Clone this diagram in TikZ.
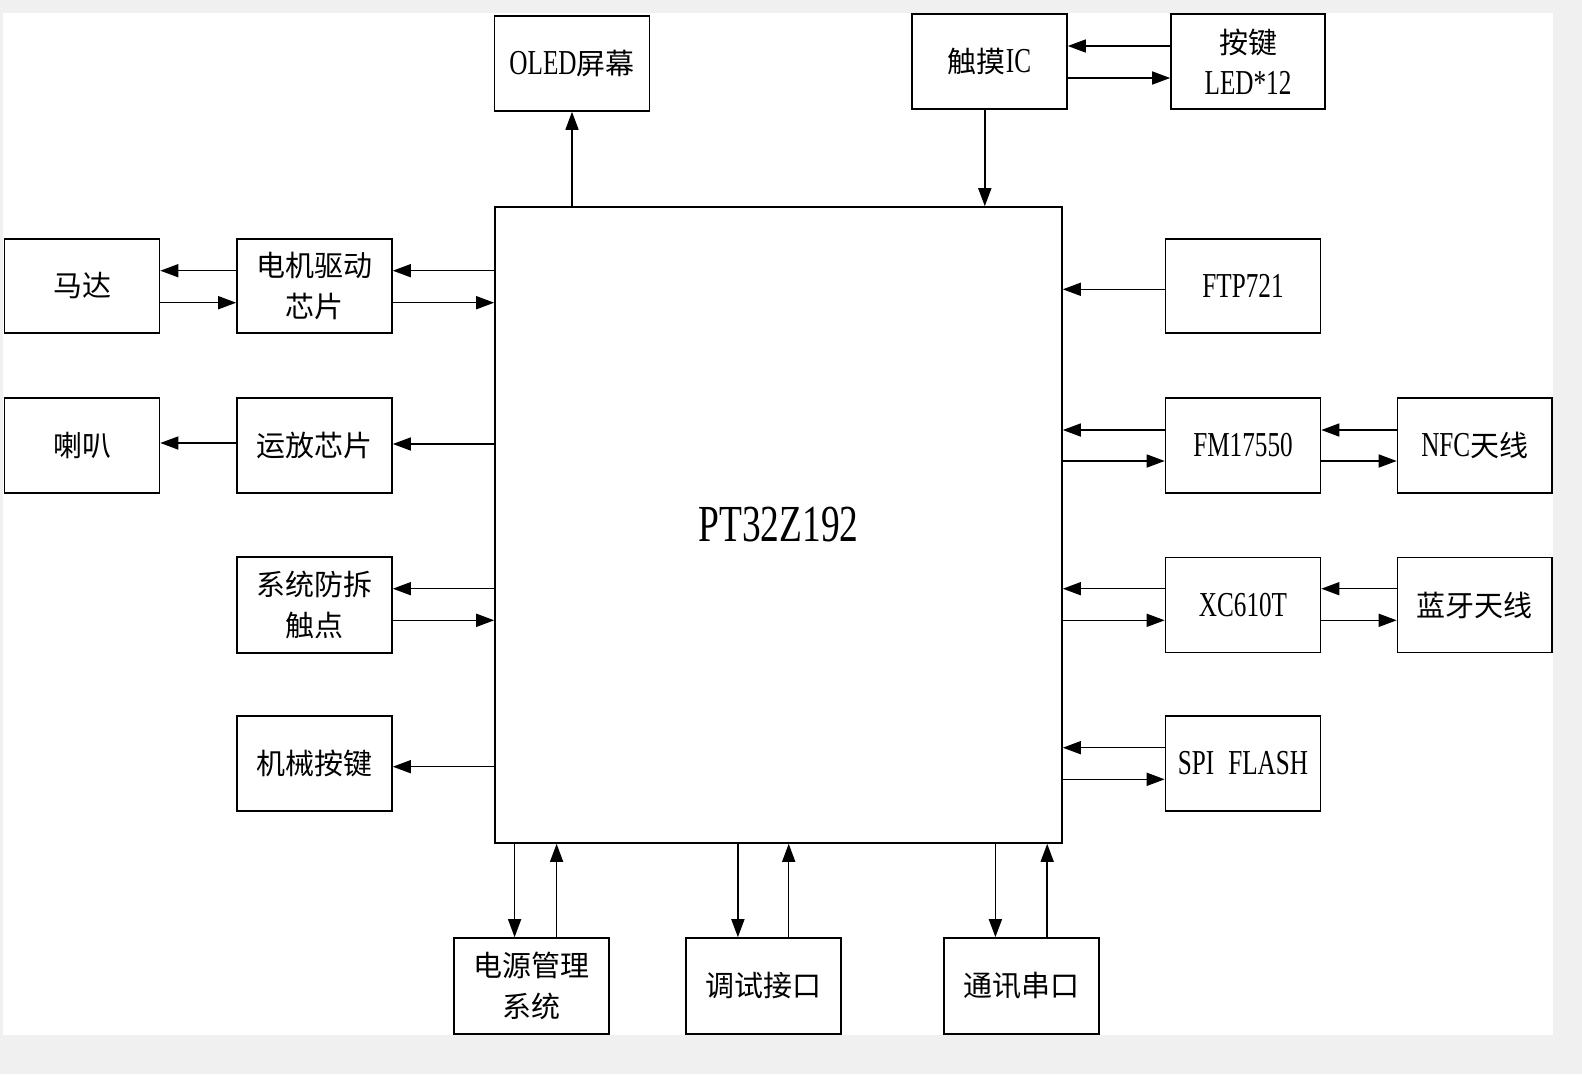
\documentclass[tikz,border=0pt]{standalone}
\usepackage{fontspec}
\setmainfont{Liberation Serif}[FakeStretch=0.72]
\newfontfamily\cjkfont{Noto Sans CJK SC}
\usetikzlibrary{arrows.meta}
\definecolor{bggray}{RGB}{240,240,240}
\newcommand\zh[1]{{\cjkfont\fontsize{29}{41}\selectfont #1}}
\tikzset{
  blk/.style={draw=black, line width=1.6pt, fill=white, inner sep=0pt,
    minimum width=155pt, minimum height=95pt, align=center,
    font=\fontsize{35}{41}\selectfont},
  arr/.style={draw=black, line width=1.5pt, -{Triangle[length=18pt,width=13pt]}}
}
\begin{document}
\begin{tikzpicture}[x=1pt,y=-1pt]
\useasboundingbox (0,0) rectangle (1582,1074);
\fill[bggray] (0,0) rectangle (1582,1074);
\fill[white] (3,13) rectangle (1553,1035);

% main
\node[blk, minimum width=567pt, minimum height=636pt, font=\fontsize{52}{60}\selectfont] (main) at (778.5,525) {PT32Z192};

% top
\node[blk] (oled) at (572,63.5) {OLED\zh{屏幕}};
\node[blk] (touch) at (989.5,61.5) {\zh{触摸}IC};
\node[blk, minimum width=154pt] (keyled) at (1248,61.5) {\zh{按键}\\LED*12};

% left
\node[blk, minimum height=94pt] (motor) at (82,286) {\zh{马达}};
\node[blk, minimum height=94pt] (mdrv) at (314.5,286) {\zh{电机驱动}\\\zh{芯片}};
\node[blk] (spk) at (82,445.5) {\zh{喇叭}};
\node[blk] (amp) at (314.5,445.5) {\zh{运放芯片}};
\node[blk, minimum height=96pt] (tamper) at (314.5,605) {\zh{系统防拆}\\\zh{触点}};
\node[blk] (mkey) at (314.5,763.5) {\zh{机械按键}};

% right
\node[blk, minimum height=94pt] (ftp) at (1243,286) {FTP721};
\node[blk] (fm) at (1243,445.5) {FM17550};
\node[blk, minimum width=154.5pt] (nfc) at (1474.75,445.5) {NFC\zh{天线}};
\node[blk] (xc) at (1243,605) {XC610T};
\node[blk, minimum width=154.5pt] (bt) at (1474.75,605) {\zh{蓝牙天线}};
\node[blk] (spi) at (1243,763.5) {SPI\hspace{14pt}FLASH};

% bottom
\node[blk, minimum height=96pt] (pwr) at (531.5,986) {\zh{电源管理}\\\zh{系统}};
\node[blk, minimum height=96pt] (dbg) at (763.25,986) {\zh{调试接口}};
\node[blk, minimum height=96pt] (com) at (1021.3,986) {\zh{通讯串口}};

% top connectors
\draw[arr] (oled.south |- main.north) -- (oled.south);
\draw[arr] (touch.south -| 984.8,0) -- (main.north -| 984.8,0);
\draw[arr] (keyled.west |- 0,46) -- (touch.east |- 0,46);
\draw[arr] (touch.east |- 0,78) -- (keyled.west |- 0,78);

% left connectors
\draw[arr] (main.west |- 0,270.7) -- (mdrv.east |- 0,270.7);
\draw[arr] (mdrv.west |- 0,270.7) -- (motor.east |- 0,270.7);
\draw[arr] (motor.east |- 0,302.7) -- (mdrv.west |- 0,302.7);
\draw[arr] (mdrv.east |- 0,302.7) -- (main.west |- 0,302.7);
\draw[arr] (main.west |- 0,444) -- (amp.east |- 0,444);
\draw[arr] (amp.west |- 0,443) -- (spk.east |- 0,443);
\draw[arr] (main.west |- 0,588.7) -- (tamper.east |- 0,588.7);
\draw[arr] (tamper.east |- 0,620.3) -- (main.west |- 0,620.3);
\draw[arr] (main.west |- 0,766.7) -- (mkey.east |- 0,766.7);

% right connectors
\draw[arr] (ftp.west |- 0,289.3) -- (main.east |- 0,289.3);
\draw[arr] (fm.west |- 0,430) -- (main.east |- 0,430);
\draw[arr] (main.east |- 0,461) -- (fm.west |- 0,461);
\draw[arr] (nfc.west |- 0,430) -- (fm.east |- 0,430);
\draw[arr] (fm.east |- 0,461) -- (nfc.west |- 0,461);
\draw[arr] (xc.west |- 0,588.7) -- (main.east |- 0,588.7);
\draw[arr] (main.east |- 0,620.3) -- (xc.west |- 0,620.3);
\draw[arr] (bt.west |- 0,588.7) -- (xc.east |- 0,588.7);
\draw[arr] (xc.east |- 0,620.3) -- (bt.west |- 0,620.3);
\draw[arr] (spi.west |- 0,747.7) -- (main.east |- 0,747.7);
\draw[arr] (main.east |- 0,779.3) -- (spi.west |- 0,779.3);

% bottom connectors
\draw[arr] (main.south -| 514.6,0) -- (pwr.north -| 514.6,0);
\draw[arr] (pwr.north -| 556.6,0) -- (main.south -| 556.6,0);
\draw[arr] (main.south -| 737.9,0) -- (dbg.north -| 737.9,0);
\draw[arr] (dbg.north -| 788.7,0) -- (main.south -| 788.7,0);
\draw[arr] (main.south -| 995.4,0) -- (com.north -| 995.4,0);
\draw[arr] (com.north -| 1047.2,0) -- (main.south -| 1047.2,0);
\end{tikzpicture}
\end{document}
